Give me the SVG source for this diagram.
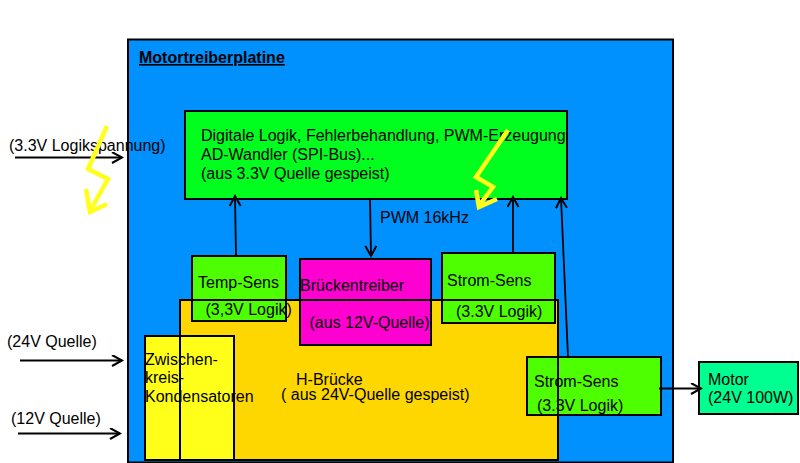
<svg xmlns="http://www.w3.org/2000/svg" width="800" height="463" viewBox="0 0 800 463">
<defs>
<marker id="arr" markerWidth="14" markerHeight="14" refX="11" refY="6" orient="auto" markerUnits="userSpaceOnUse"><path d="M1 .5 L11 6 L1 11.500" fill="none" stroke="#000" stroke-width="2"/></marker>
</defs>
<style>
.b{stroke:#000;stroke-width:2}
text{font-family:"Liberation Sans",Arial,sans-serif;font-size:16px;fill:#000}
.c{fill:none;stroke:#000;stroke-width:1.800;marker-end:url(#arr)}
.z{fill:none;stroke:#ffff1a;stroke-width:4.5}
</style>
<rect width="800" height="463" fill="#fff"/>
<g id="platine"><rect class="b" x="128" y="39.500" width="545" height="423" fill="#0091ff"/>
<text x="139" y="63" font-weight="bold" text-decoration="underline">Motortreiberplatine</text></g>
<g id="logik"><rect class="b" x="185" y="111" width="382" height="88" fill="#00ff1e"/>
<text x="201" y="141">Digitale Logik, Fehlerbehandlung, PWM-Erzeugung</text>
<text x="201" y="160">AD-Wandler (SPI-Bus)...</text>
<text x="201" y="179">(aus 3.3V Quelle gespeist)</text></g>
<g id="hbruecke"><rect x="180" y="300" width="378" height="160" fill="#ffd700"/>
<text x="296" y="385">H-Brücke</text><text x="281" y="400">( aus 24V-Quelle gespeist)</text></g>
<g id="kondensatoren"><rect class="b" x="145" y="336" width="89" height="124" fill="#ffff1a"/>
<text x="145" y="365">Zwischen-</text><text x="145" y="383">kreis-</text><text x="145" y="402">Kondensatoren</text></g>
<g id="tempsens"><rect class="b" x="192" y="256" width="94" height="65" fill="#4dff00"/>
<text x="198" y="288">Temp-Sens</text><text x="205.500" y="315">(3,3V Logik)</text></g>
<g id="brueckentreiber"><rect class="b" x="300" y="259" width="131" height="86" fill="#ff00d0"/>
<text x="300" y="291">Brückentreiber</text><text x="309.500" y="328">(aus 12V-Quelle)</text></g>
<g id="stromsens1"><rect class="b" x="442" y="253" width="113" height="70" fill="#4dff00"/>
<text x="447" y="286">Strom-Sens</text><text x="456" y="317">(3.3V Logik)</text></g>
<g id="stromsens2"><rect class="b" x="527" y="357" width="134" height="58" fill="#4dff00"/>
<text x="534" y="387">Strom-Sens</text><text x="537" y="411">(3.3V Logik)</text></g>
<rect class="b" x="180" y="300" width="378" height="160" fill="none"/>
<g id="motor"><rect class="b" x="699" y="362" width="99" height="52" fill="#00ff91"/>
<text x="708" y="385">Motor</text><text x="708" y="403">(24V 100W)</text></g>
<g id="quellen"><text x="9" y="151">(3.3V Logikspannung)</text><text x="7" y="347">(24V Quelle)</text><text x="11" y="424">(12V Quelle)</text></g>
<text x="380" y="223">PWM 16kHz</text>
<g id="connectors">
<path class="c" d="M15 157.500H122"/>
<path class="c" d="M20 360.500H122"/>
<path class="c" d="M18 433.500H120"/>
<path class="c" d="M236 256L235 196"/>
<path class="c" d="M370 199L371 256"/>
<path class="c" d="M513 253V197"/>
<path class="c" d="M568 357L561 198"/>
<path class="c" d="M659 388.500H701"/>
</g>
<path id="blitz1" class="z" d="M107 126L88 169L108 179L90 211M86 189L90 212L107 204"/>
<path id="blitz2" class="z" d="M508 130L476 177L493 187L478 207M476 190L479 207L497 199"/>
</svg>
